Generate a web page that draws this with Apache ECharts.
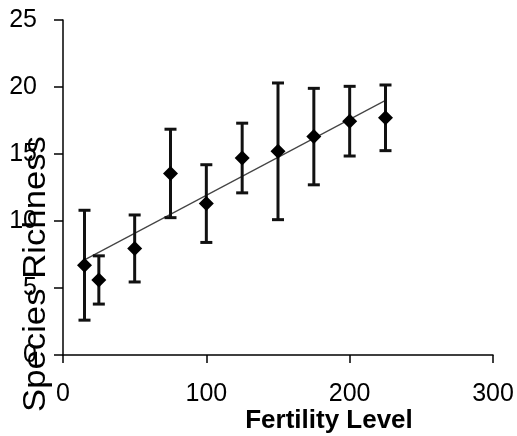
<!DOCTYPE html>
<html>
<head>
<meta charset="utf-8">
<script src="https://cdn.jsdelivr.net/npm/echarts@6/dist/echarts.min.js"></script>
<style>
  html, body { margin: 0; padding: 0; background: #fff; }
  #chart { width: 517px; height: 436px; }
</style>
</head>
<body>
<div id="chart"></div>
<script>
// fertility levels and mean species richness with error (± half-width)
const fertility = [15, 25, 50, 75, 100, 125, 150, 175, 200, 225]
const richness = [6.7, 5.6, 7.95, 13.55, 11.3, 14.7, 15.2, 16.3, 17.45, 17.7]
const errors = [4.1, 1.8, 2.5, 3.3, 2.9, 2.6, 5.1, 3.6, 2.6, 2.45]
// fitted trend line end points
const trendX = [15, 225]
const trendY = [7.1, 19.0]

const points = fertility.map((x, i) => [x, richness[i]])
const bars = fertility.map((x, i) => [x, richness[i] - errors[i], richness[i] + errors[i]])
const trend = trendX.map((x, i) => [x, trendY[i]])

const font = '"Liberation Sans", Arial, sans-serif'
const myChart = echarts.init(document.getElementById('chart'))

const option = {
  backgroundColor: '#fff',
  animation: false,
  grid: { left: 63, right: 24, top: 20, bottom: 81 },
  xAxis: {
    type: 'value',
    min: 0,
    max: 300,
    interval: 100,
    axisLine: { lineStyle: { color: '#000', width: 1.5 } },
    axisTick: { show: true, length: 8, lineStyle: { color: '#000', width: 1.5 } },
    axisLabel: { color: '#000', fontSize: 25, fontFamily: font, margin: 27 },
    splitLine: { show: false }
  },
  yAxis: {
    type: 'value',
    min: 0,
    max: 25,
    interval: 5,
    axisLine: { show: true, lineStyle: { color: '#000', width: 1.5 } },
    axisTick: { show: true, length: 9, lineStyle: { color: '#000', width: 1.5 } },
    axisLabel: { color: '#000', fontSize: 25, fontFamily: font, margin: 26 },
    splitLine: { show: false }
  },
  graphic: [
    {
      type: 'text',
      x: 36,
      y: 274,
      rotation: Math.PI / 2,
      scaleX: 1.12,
      style: {
        text: 'Species Richness',
        font: '31px ' + font,
        fill: '#000',
        align: 'center',
        verticalAlign: 'middle'
      }
    },
    {
      type: 'text',
      x: 329,
      y: 421,
      style: {
        text: 'Fertility Level',
        font: 'bold 26px ' + font,
        fill: '#000',
        align: 'center',
        verticalAlign: 'middle'
      }
    }
  ],
  series: [
    {
      type: 'line',
      data: trend,
      showSymbol: false,
      lineStyle: { color: '#444', width: 1.2 },
      z: 1
    },
    {
      type: 'custom',
      data: bars,
      z: 2,
      renderItem: function (params, api) {
        const x = api.value(0)
        const lo = api.coord([x, api.value(1)])
        const hi = api.coord([x, api.value(2)])
        const half = 6
        const style = { stroke: '#111', lineWidth: 3 }
        return {
          type: 'group',
          children: [
            { type: 'line', shape: { x1: lo[0], y1: lo[1], x2: hi[0], y2: hi[1] }, style },
            { type: 'line', shape: { x1: hi[0] - half, y1: hi[1], x2: hi[0] + half, y2: hi[1] }, style },
            { type: 'line', shape: { x1: lo[0] - half, y1: lo[1], x2: lo[0] + half, y2: lo[1] }, style }
          ]
        }
      }
    },
    {
      type: 'scatter',
      data: points,
      symbol: 'diamond',
      symbolSize: [15, 15],
      itemStyle: { color: '#000', opacity: 1 },
      z: 3
    }
  ]
}
myChart.setOption(option)
window.addEventListener('resize', () => {
  myChart?.resize()
})
</script>
</body>
</html>
